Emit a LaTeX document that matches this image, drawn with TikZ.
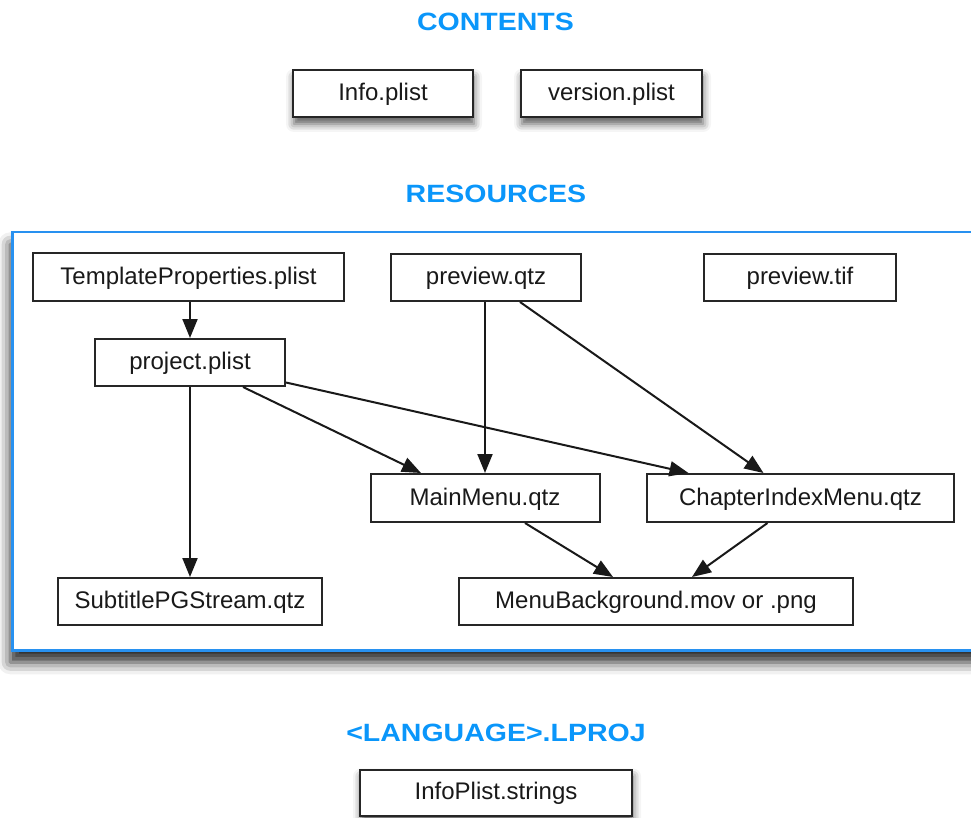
\documentclass[tikz,border=0pt]{standalone}
\usepackage{fontspec}
\setmainfont{Liberation Sans}
\usetikzlibrary{arrows.meta,calc,shadows.blur}
\definecolor{titleblue}{RGB}{10,150,250}
\definecolor{frameblue}{RGB}{40,145,240}
\tikzset{
  filebox/.style={draw=black!85, line width=2pt, fill=white, inner sep=0pt,
    minimum height=47pt, text height=16pt, text depth=2pt,
    font=\fontsize{24}{28}\selectfont, text=black!90},
  shadowed/.style={blur shadow={shadow xshift=1pt, shadow yshift=-7pt,
    shadow blur radius=8pt, shadow opacity=65}},
  title/.style={font=\fontsize{25}{28}\selectfont\bfseries, text=titleblue, inner sep=0pt},
  link/.style={draw=black!90, line width=2pt, -{Triangle[length=19pt,width=15pt]}}
}
\newcommand{\wide}[1]{\scalebox{1.14}[1]{#1}}
\begin{document}
\begin{tikzpicture}[x=1pt,y=1pt]
\useasboundingbox (0,0) rectangle (971,-818);
% titles
\node[title] (tcont) at (495.5,-22) {\wide{CONTENTS}};
\node[title] (tres) at (496,-194) {\wide{RESOURCES}};
\node[title] (tlang) at (496,-733) {\wide{<LANGUAGE>.LPROJ}};
% contents
\node[filebox, shadowed, minimum width=180pt] (info) at (383,-93.5) {Info.plist};
\node[filebox, shadowed, minimum width=181pt] (version) at (611.5,-93.5) {version.plist};
% resources frame
\node[draw=frameblue, line width=2.5pt, fill=white, inner sep=0pt,
  blur shadow={shadow xshift=-2pt, shadow yshift=-12pt, shadow blur radius=12pt, shadow opacity=85},
  anchor=north west, minimum width=975pt, minimum height=418pt] (frame) at (11,-231) {};
% resources files
\node[filebox, minimum width=311pt, minimum height=48pt] (tpl) at (188.5,-277) {TemplateProperties.plist};
\node[filebox, minimum width=190pt] (pqtz) at (486,-277.5) {preview.qtz};
\node[filebox, minimum width=192pt] (ptif) at (800,-277.5) {preview.tif};
\node[filebox, minimum width=190pt] (proj) at (190,-362.5) {project.plist};
\node[filebox, minimum width=229pt, minimum height=48pt] (main) at (485,-498) {MainMenu.qtz};
\node[filebox, minimum width=307pt, minimum height=48pt] (chap) at (800.5,-498) {ChapterIndexMenu.qtz};
\node[filebox, minimum width=264pt] (sub) at (190,-601.5) {SubtitlePGStream.qtz};
\node[filebox, minimum width=394pt] (bg) at (656,-601.5) {MenuBackground.mov or .png};
% language
\node[filebox, shadowed, minimum width=272pt, minimum height=46pt] (strs) at (496,-792.5) {InfoPlist.strings};
% connectors
\draw[link] (tpl.south -| proj.north) -- (proj.north);
\draw[link] (proj.south -| sub.north) -- (sub.north);
\draw[link] ($(proj.south)+(53,0)$) -- ($(main.north)+(-64,0)$);
\draw[link] ($(proj.east)+(0,-20)$) -- ($(chap.north)+(-112,0)$);
\draw[link] (pqtz.south -| main.north) -- (main.north);
\draw[link] ($(pqtz.south)+(34,0)$) -- ($(chap.north)+(-37,0)$);
\draw[link] ($(main.south)+(40,0)$) -- ($(bg.north)+(-43,0)$);
\draw[link] ($(chap.south)+(-33,0)$) -- ($(bg.north)+(36,0)$);
\end{tikzpicture}
\end{document}
